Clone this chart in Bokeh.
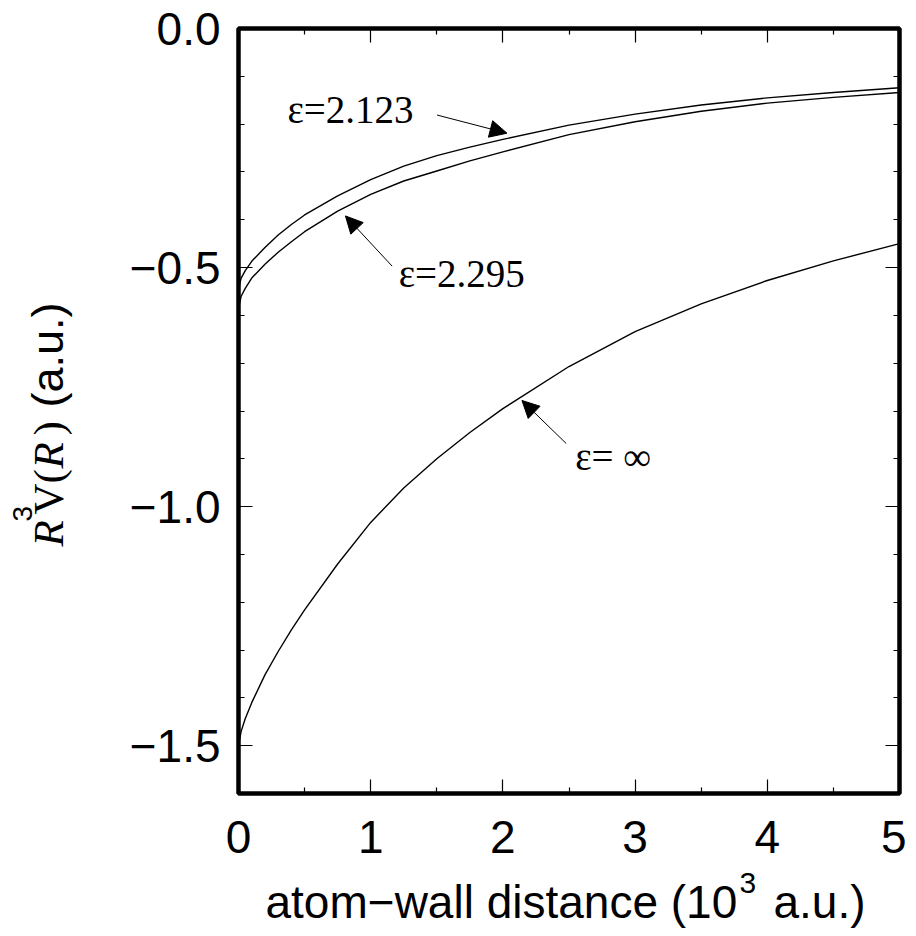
import math
from bokeh.plotting import figure
from bokeh.models import (Range1d, LinearAxis, FixedTicker, Arrow, NormalHead)
from bokeh.core.properties import value
from bokeh.layouts import row, column
from bokeh.embed import file_html
from bokeh.resources import INLINE

# ---------------- data ----------------
distance = [0.0, 0.02, 0.05, 0.1, 0.2, 0.3, 0.4, 0.5, 0.75, 1.0, 1.25, 1.5, 1.75,
            2.0, 2.5, 3.0, 3.5, 4.0, 4.5, 5.0]
eps_2123 = [-0.545, -0.522, -0.507, -0.487, -0.458, -0.432, -0.410, -0.390, -0.350, -0.316,
            -0.288, -0.266, -0.248, -0.232, -0.202, -0.179, -0.160, -0.145, -0.134, -0.124]
eps_2295 = [-0.585, -0.560, -0.544, -0.522, -0.493, -0.468, -0.446, -0.425, -0.382, -0.347,
            -0.319, -0.298, -0.277, -0.258, -0.222, -0.195, -0.173, -0.156, -0.144, -0.134]
eps_inf = [-1.500, -1.470, -1.444, -1.410, -1.352, -1.303, -1.258, -1.216, -1.120, -1.033,
           -0.961, -0.900, -0.845, -0.795, -0.707, -0.634, -0.576, -0.527, -0.486, -0.450]

x_major = [0, 1, 2, 3, 4, 5]
x_minor = [0.5, 1.5, 2.5, 3.5, 4.5]
x_tick_labels = ["0", "1", "2", "3", "4", "5"]
y_major = [-1.5, -1.0, -0.5, 0.0]
y_minor = [-1.6, -1.4, -1.3, -1.2, -1.1, -0.9, -0.8, -0.7, -0.6, -0.4, -0.3, -0.2, -0.1]
y_tick_labels = ["\u22121.5", "\u22121.0", "\u22120.5", "0.0"]

curve_labels = ["\u03b5=2.123", "\u03b5=2.295", "\u03b5= \u221e"]
label_x = [0.370, 1.212, 2.547]
label_y = [-0.198, -0.542, -0.924]          # text baselines (data units)
arrow_tails = [(1.502, -0.181), (1.162, -0.497), (2.479, -0.868)]
arrow_heads = [(2.031, -0.219), (0.809, -0.392), (2.144, -0.778)]

SANS = "Liberation Sans"
SERIF = "Liberation Serif"
CENTRAL = 0.35   # the renderer centres text on its anchor; shift by this many em

TOP_H = 865
BOT_H = 69
LEFT_W = 110
PLOT_W = 796
FRAME_TOP, FRAME_BOTTOM = 28, 793

p = figure(width=PLOT_W, height=TOP_H, output_backend="svg", toolbar_location=None,
           title=None, x_range=Range1d(0, 5), y_range=Range1d(-1.6, 0.0),
           min_border_left=128, min_border_right=7, min_border_top=FRAME_TOP,
           min_border_bottom=TOP_H - FRAME_BOTTOM, x_axis_location=None,
           y_axis_location=None)
p.grid.visible = False
p.background_fill_color = "white"
p.border_fill_color = "white"
p.outline_line_color = "black"
p.outline_line_width = 4.5


def make_axis(ticks, minors, labels, show_labels, standoff):
    ax = LinearAxis(ticker=FixedTicker(ticks=ticks, minor_ticks=minors))
    ax.axis_line_color = None
    ax.major_tick_in = 14
    ax.major_tick_out = 0
    ax.minor_tick_in = 6
    ax.minor_tick_out = 0
    ax.major_tick_line_color = "black"
    ax.minor_tick_line_color = "black"
    ax.major_tick_line_width = 1.2
    ax.minor_tick_line_width = 1.2
    if show_labels:
        ax.major_label_overrides = {float(t): l for t, l in zip(ticks, labels)}
        ax.major_label_text_font = SANS
        ax.major_label_text_font_size = "46px"
        ax.major_label_text_color = "black"
        ax.major_label_standoff = standoff
    else:
        ax.major_label_overrides = {float(t): "" for t in ticks}
        ax.major_label_standoff = 0
    return ax

p.add_layout(make_axis(x_major, x_minor, x_tick_labels, True, 27), "below")
p.add_layout(make_axis(y_major, y_minor, y_tick_labels, True, 18), "left")
p.add_layout(make_axis(x_major, x_minor, x_tick_labels, False, 0), "above")
p.add_layout(make_axis(y_major, y_minor, y_tick_labels, False, 0), "right")

for ys in (eps_2123, eps_2295, eps_inf):
    p.line(distance, ys, line_color="black", line_width=1.4)

LBL_SIZE = 39
px_per_unit_y = (FRAME_BOTTOM - FRAME_TOP) / 1.6
shift = CENTRAL * LBL_SIZE / px_per_unit_y
p.text(x=label_x, y=[v + shift for v in label_y], text=curve_labels,
       text_font=value(SERIF), text_font_size=value(f"{LBL_SIZE}px"), text_color="black",
       text_align="left", text_baseline="alphabetic")

for (tx, ty), (hx, hy) in zip(arrow_tails, arrow_heads):
    p.add_layout(Arrow(x_start=tx, y_start=ty, x_end=hx, y_end=hy, line_width=1,
                       line_color="black",
                       end=NormalHead(size=17, fill_color="black", line_color="black")))


def strip(w, h, xr, yr):
    f = figure(width=w, height=h, output_backend="svg", toolbar_location=None, title=None,
               x_range=xr, y_range=yr, min_border=0,
               x_axis_location=None, y_axis_location=None)
    f.grid.visible = False
    f.outline_line_color = None
    f.background_fill_color = "white"
    f.border_fill_color = "white"
    return f

# ---- y axis title: vertical, pieces in page pixels (frame is aligned with the plot's) ----
yfig = strip(LEFT_W, TOP_H, Range1d(0, LEFT_W), Range1d(FRAME_BOTTOM, FRAME_TOP))
y_title = [("R", 63, 546, SERIF, 43, "italic"),
           ("3", 32, 521, SANS, 28, "normal"),
           ("V(", 63, 514, SERIF, 43, "normal"),
           ("R", 63, 468, SERIF, 43, "italic"),
           (")", 63, 435, SERIF, 43, "normal"),
           ("(a.u.)", 63, 407, SANS, 45, "normal")]
for txt, bx, sy, font, size, style in y_title:
    yfig.text(x=[bx - CENTRAL * size], y=[sy], text=[txt], text_font=value(font),
              text_font_size=value(f"{size}px"), text_font_style=style, text_color="black",
              angle=math.pi / 2, text_align="left", text_baseline="alphabetic")

# ---- x axis title with superscript, in page pixels ----
total_h = TOP_H + BOT_H
xfig = strip(LEFT_W + PLOT_W, BOT_H, Range1d(0, LEFT_W + PLOT_W), Range1d(total_h, TOP_H))
x_title = [("atom\u2212wall distance (10", 265, 918, 46),
           ("3", 739, 893, 30),
           ("a.u.)", 773, 918, 46)]
for txt, sx, by, size in x_title:
    xfig.text(x=[sx], y=[by - CENTRAL * size], text=[txt], text_font=value(SANS),
              text_font_size=value(f"{size}px"), text_color="black",
              text_align="left", text_baseline="alphabetic")

layout = column(row(yfig, p, spacing=0), xfig, spacing=0)
open("out.html", "w").write(file_html(layout, INLINE))
